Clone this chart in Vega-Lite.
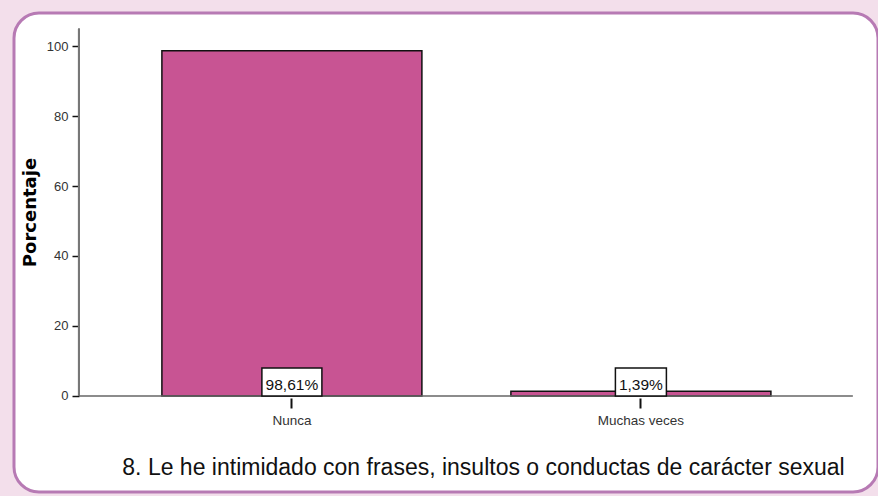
{
  "$schema": "https://vega.github.io/schema/vega-lite/v6.json",
  "autosize": {"type": "none"},
  "padding": {"left": 14, "top": 13, "right": 0, "bottom": 4},
  "width": 864,
  "height": 479,
  "background": "#F3DFEB",
  "config": {
    "view": {"fill": "white", "stroke": "#B77AB4", "strokeWidth": 3, "cornerRadius": 25}
  },
  "data": {
    "values": [
      {"categoria": "Nunca", "porcentaje": 98.61, "etiqueta": "98,61%"},
      {"categoria": "Muchas veces", "porcentaje": 1.39, "etiqueta": "1,39%"}
    ]
  },
  "encoding": {
    "x": {
      "field": "categoria",
      "type": "nominal",
      "sort": null,
      "scale": {"paddingInner": 0.255, "paddingOuter": 0.3653, "align": 0.58},
      "axis": {
        "offset": -94,
        "domain": false,
        "grid": false,
        "labelAngle": 0,
        "tickColor": "#111",
        "tickWidth": 2,
        "tickSize": 10,
        "labelFont": "Liberation Sans",
        "labelFontSize": 13.5,
        "labelColor": "#333",
        "labelPadding": 5,
        "title": "8.  Le he intimidado con frases, insultos o conductas de carácter sexual",
        "titleFont": "Liberation Sans",
        "titleFontSize": 23,
        "titleFontWeight": "normal",
        "titleColor": "#111",
        "titleX": 469,
        "titleY": 76,
        "titleAlign": "center",
        "titleBaseline": "alphabetic",
        "titleAnchor": null
      }
    }
  },
  "layer": [
    {
      "mark": {"type": "bar", "fill": "#C85493", "stroke": "#111", "strokeWidth": 1.5},
      "encoding": {
        "y": {
          "field": "porcentaje",
          "type": "quantitative",
          "scale": {"domain": [-27.43, 109.43], "nice": false, "zero": false},
          "axis": {
            "values": [0, 20, 40, 60, 80, 100],
            "offset": -65,
            "domain": false,
            "grid": false,
            "tickColor": "#111",
            "tickSize": 7,
            "tickWidth": 1.5,
            "labelFont": "Liberation Sans",
            "labelFontSize": 13,
            "labelColor": "#333",
            "labelPadding": 4,
            "title": "Porcentaje",
            "titleFont": "DejaVu Sans",
            "titleFontWeight": "bold",
            "titleFontSize": 18,
            "titleColor": "#000",
            "titleX": -49,
            "titleY": 199,
            "titleAngle": -90,
            "titleAlign": "center",
            "titleBaseline": "middle",
            "titleAnchor": null
          }
        }
      }
    },
    {
      "mark": {"type": "rule", "color": "#777", "strokeWidth": 2},
      "encoding": {
        "x": {"datum": "Nunca", "bandPosition": -0.319},
        "y": {"datum": 0},
        "y2": {"datum": 105}
      }
    },
    {
      "mark": {"type": "rule", "color": "#666", "strokeWidth": 1.2},
      "encoding": {
        "x": {"datum": "Nunca", "bandPosition": -0.319},
        "x2": {"datum": "Muchas veces", "bandPosition": 1.315},
        "y": {"datum": 0}
      }
    },
    {
      "mark": {"type": "bar", "fill": "white", "stroke": "#111", "strokeWidth": 1.5},
      "encoding": {
        "y": {"datum": 8},
        "y2": {"datum": 0},
        "size": {"condition": {"test": "datum.categoria === 'Nunca'", "value": 60}, "value": 51}
      }
    },
    {
      "mark": {"type": "text", "font": "Liberation Sans", "fontSize": 15.5, "color": "#111", "baseline": "middle"},
      "encoding": {
        "y": {"datum": 3.1},
        "text": {"field": "etiqueta"}
      }
    }
  ]
}
